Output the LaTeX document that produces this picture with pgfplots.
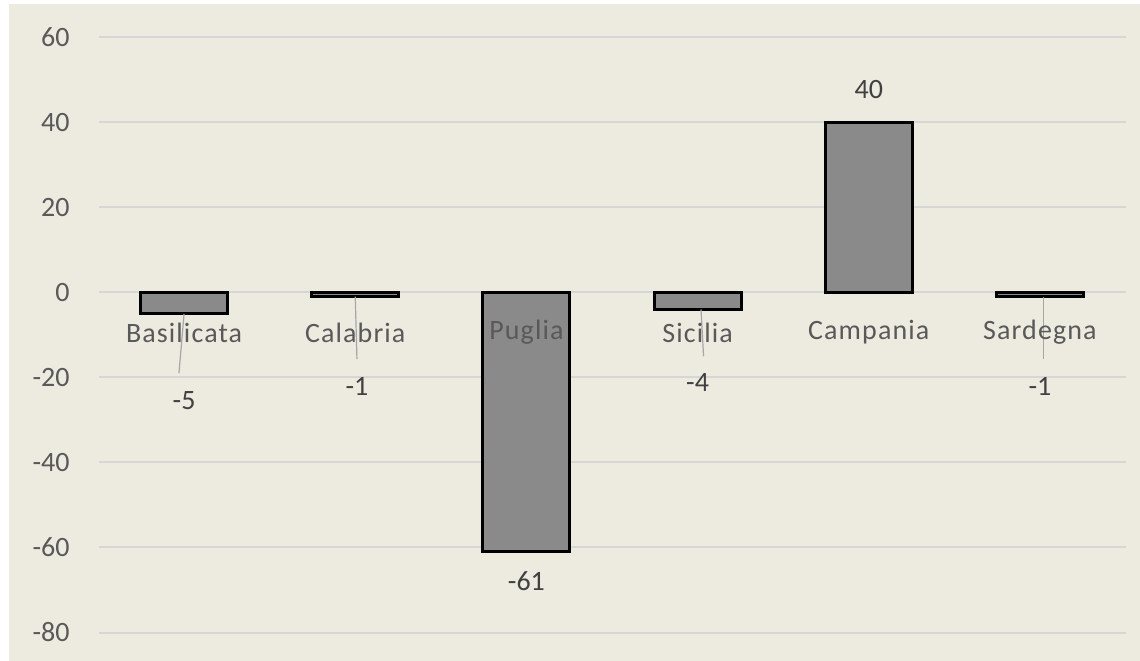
\documentclass[border=0pt]{standalone}
\usepackage{pgfplots}
\pgfplotsset{compat=1.18}
\usepackage{fontspec}
\setmainfont{Carlito}
\newfontfamily\catfont[LetterSpace=4]{Carlito}
\definecolor{bgc}{HTML}{EDEAE0}
\definecolor{gridc}{HTML}{D6D6D6}
\definecolor{tickc}{HTML}{595959}
\definecolor{labc}{HTML}{404040}
\definecolor{barc}{HTML}{8A8A8A}
\definecolor{leadc}{HTML}{A6A6A6}
\begin{document}
\begin{tikzpicture}
\fill[white] (-49.25bp,-14.25bp) rectangle (520.75bp,316.25bp);
\fill[bgc] (-44.75bp,-14.25bp) rectangle (520.75bp,314.25bp);
\begin{axis}[
  at={(0,0)}, anchor=south west,
  scale only axis,
  width=513.5bp, height=297.5bp,
  xmin=-0.5, xmax=5.5,
  ymin=-80, ymax=60,
  ytick={-80,-60,...,60},
  xtick=\empty,
  axis line style={draw=none},
  major tick length=0pt,
  ymajorgrids,
  grid style={draw=gridc, line width=1bp},
  ybar, bar width=43.5bp,
  /pgf/number format/assume math mode=true,
  yticklabel style={font=\fontsize{14bp}{16bp}\selectfont, text=tickc, anchor=east, xshift=-11bp},
  clip=false,
]
\addplot[fill=barc, draw=black, line width=1.5bp] coordinates {
  (0,-5) (1,-1) (2,-61) (3,-4) (4,40) (5,-1)
};
% leader lines
\draw[leadc, line width=0.6bp] (axis cs:0,-5) -- (axis cs:-0.03,-19.0);
\draw[leadc, line width=0.6bp] (axis cs:1,-1) -- (axis cs:1.01,-15.7);
\draw[leadc, line width=0.6bp] (axis cs:3.02,-4) -- (axis cs:3.035,-15.0);
\draw[leadc, line width=0.6bp] (axis cs:5.02,-1) -- (axis cs:5.02,-15.7);
% category labels
\begin{scope}[every node/.style={font=\catfont\fontsize{14bp}{16bp}\selectfont, text=tickc}]
\node at (axis cs:0,-9.4) {Basilicata};
\node at (axis cs:1,-9.4) {Calabria};
\node at (axis cs:2,-9.4) {Puglia};
\node at (axis cs:3,-9.4) {Sicilia};
\node at (axis cs:4,-9.4) {Campania};
\node at (axis cs:5,-9.4) {Sardegna};
\end{scope}
% data labels
\begin{scope}[every node/.style={font=\fontsize{14bp}{16bp}\selectfont, text=labc}]
\node at (axis cs:0,-25.4) {-5};
\node at (axis cs:1.01,-22.1) {-1};
\node at (axis cs:2,-67.8) {-61};
\node at (axis cs:3,-21.1) {-4};
\node at (axis cs:4,47.7) {40};
\node at (axis cs:5,-22.1) {-1};
\end{scope}
\end{axis}
\pgfresetboundingbox
\path[use as bounding box] (-49.25bp,-14.25bp) rectangle (520.75bp,316.25bp);
\end{tikzpicture}
\end{document}
